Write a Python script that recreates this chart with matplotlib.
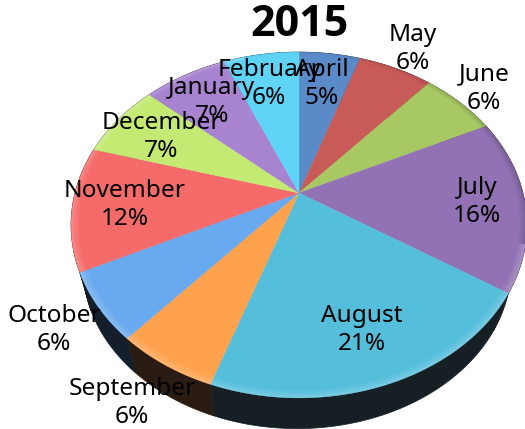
import numpy as np
import matplotlib
matplotlib.use("Agg")
import matplotlib.pyplot as plt
from matplotlib.collections import PolyCollection

# Meses en sentido horario desde arriba
meses = ["April", "May", "June", "July", "August", "September",
         "October", "November", "December", "January", "February"]
valores = [5.2, 6.3, 6.4, 16.2, 21.2, 6.2, 6.3, 11.6, 7.1, 7.1, 6.4]

colores = ["#5a8ac8", "#c85a58", "#a8c864", "#9272b4", "#54bedb", "#ffa24e",
           "#69a9ef", "#f56b69", "#c4ea74", "#a884d0", "#60d4f6"]
lados = ["#141e28", "#241414", "#1e2414", "#1a1622", "#162024", "#2a1c12",
         "#151e2b", "#261414", "#1e2414", "#1a1622", "#162024"]

# Centro de cada etiqueta en pixeles
pos_etiquetas = [(322, 84), (413, 49), (484, 89), (477, 202), (362, 330), (132, 403),
                 (54, 330), (125, 205), (161, 137), (212, 102), (269, 84)]

plt.rcParams['font.family'] = ['Noto Sans', 'DejaVu Sans']

CX, CY = 299, 193
R, S, K = 224, 167, 0.185


def proyecta(ang, radio=1.0, escala=1.0, cx=CX, cy=CY):
    """Pasa un punto del disco a pixeles con una perspectiva simple."""
    u = radio * np.sin(ang)
    v = radio * np.cos(ang)
    den = 1 + K * v
    return cx + escala * R * u / den, cy - escala * S * v / den


fig = plt.figure(figsize=(5.25, 4.29), dpi=100)
ax = fig.add_axes([0, 0, 1, 1])
ax.set_xlim(0, 525)
ax.set_ylim(429, 0)
ax.axis("off")

bordes = np.radians(np.cumsum([0] + valores) / sum(valores) * 360)

# Costado del cilindro
for i in range(len(valores)):
    t = np.linspace(bordes[i], bordes[i + 1], 60)
    x1, y1 = proyecta(t)
    x2, y2 = proyecta(t, escala=0.94, cx=297, cy=236)
    ax.fill(np.r_[x1, x2[::-1]], np.r_[y1, y2[::-1]], color=lados[i], lw=0.5, zorder=1)

# Cara superior
for i in range(len(valores)):
    t = np.linspace(bordes[i], bordes[i + 1], 60)
    x, y = proyecta(t)
    ax.fill(np.r_[CX, x], np.r_[CY, y], color=colores[i], lw=0.3, zorder=2)

# Bisel: borde claro abajo y a la izquierda, oscuro a la derecha
t = np.radians(np.linspace(0, 360, 361))
for r0, r1, fuerza in [(0.99, 1.0, 1.0), (0.98, 0.99, 0.6), (0.97, 0.98, 0.3)]:
    polis, tonos = [], []
    for a, b in zip(t[:-1], t[1:]):
        xa, ya = proyecta(np.array([a, b]), r1)
        xb, yb = proyecta(np.array([b, a]), r0)
        polis.append(np.c_[np.r_[xa, xb], np.r_[ya, yb]])
        c = np.cos((a + b) / 2)
        s = np.sin((a + b) / 2)
        if c < -0.3 or s < -0.3:
            tonos.append((1, 1, 1, 0.2 * fuerza))
        else:
            tonos.append((0, 0, 0, 0.16 * fuerza * max(0.1, s)))
    ax.add_collection(PolyCollection(polis, facecolors=tonos, edgecolors="none", zorder=3))

for mes, v, (x, y) in zip(meses, valores, pos_etiquetas):
    ax.text(x, y, f"{mes}\n{round(v)}%", ha="center", va="center", fontsize=17.6,
            color="black", linespacing=1.25, zorder=5)

ax.text(299, 24, "2015", ha="center", va="center", fontsize=31, fontweight="bold",
        family="Open Sans", color="black", zorder=5)

fig.savefig("out.png", dpi=100)
